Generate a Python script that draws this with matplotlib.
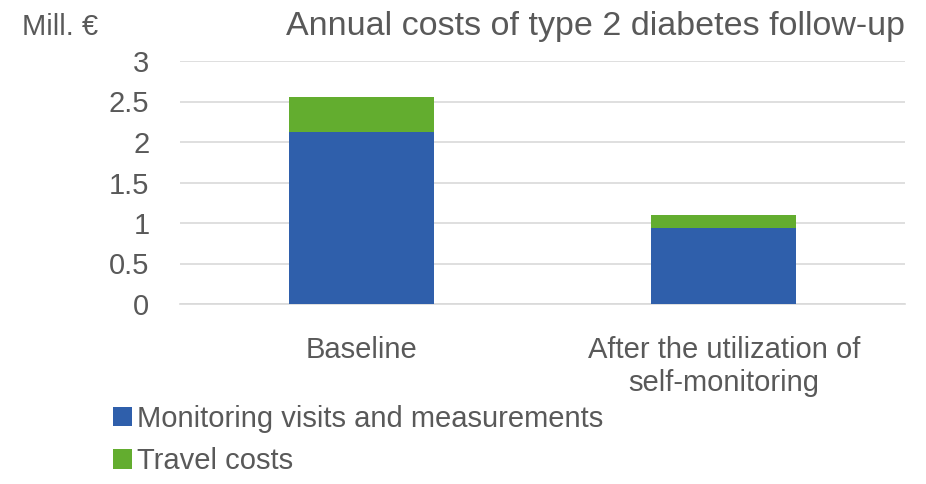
import matplotlib.pyplot as plt
import numpy as np

plt.rcParams['font.family'] = ['Liberation Sans', 'DejaVu Sans']

categories = ['Baseline', 'After the utilization of\nself-monitoring']
monitoring = [2.12, 0.94]
travel = [0.43, 0.16]
series_names = ['Monitoring visits and measurements', 'Travel costs']
blue = '#2f5fab'
green = '#63ad2f'
txt = '#595959'

fig = plt.figure(figsize=(9.26, 4.84), dpi=100)
ax = fig.add_axes([180 / 926, 1 - 304 / 484, 725 / 926, 243 / 484])

x = np.arange(len(categories))
b1 = ax.bar(x, monitoring, width=0.4, color=blue, zorder=3)
b2 = ax.bar(x, travel, width=0.4, bottom=monitoring, color=green, zorder=3)

ax.set_xlim(-0.5, 1.5)
ax.set_ylim(0, 3)
ax.set_yticks([0, 0.5, 1, 1.5, 2, 2.5, 3])
ax.set_yticklabels(['0', '0.5', '1', '1.5', '2', '2.5', '3'])
ax.set_xticks(x)
ax.set_xticklabels(categories, linespacing=1.25)
ax.tick_params(axis='both', length=0, labelsize=21, colors=txt)
ax.tick_params(axis='x', pad=23)
ax.tick_params(axis='y', pad=22)
ax.grid(axis='y', color='#d9d9d9', linewidth=1.2, zorder=0)
for s in ['left', 'right', 'top']:
    ax.spines[s].set_visible(False)
ax.spines['bottom'].set_color('#d9d9d9')
ax.spines['bottom'].set_linewidth(1.2)

fig.text(22 / 926, 1 - 27 / 484, 'Mill. €', fontsize=21, color=txt, va='center', ha='left')
fig.text(905 / 926, 1 - 27 / 484, 'Annual costs of type 2 diabetes follow-up',
         fontsize=24.5, color=txt, va='center', ha='right')

fig.legend([b1, b2], series_names, loc='lower left', bbox_to_anchor=(98 / 926, -0.012),
           frameon=False, fontsize=21, labelcolor=txt, handlelength=0.65, handleheight=0.65,
           handletextpad=0.2, labelspacing=0.5, borderaxespad=0.1)

fig.savefig('out.png', dpi=100)
